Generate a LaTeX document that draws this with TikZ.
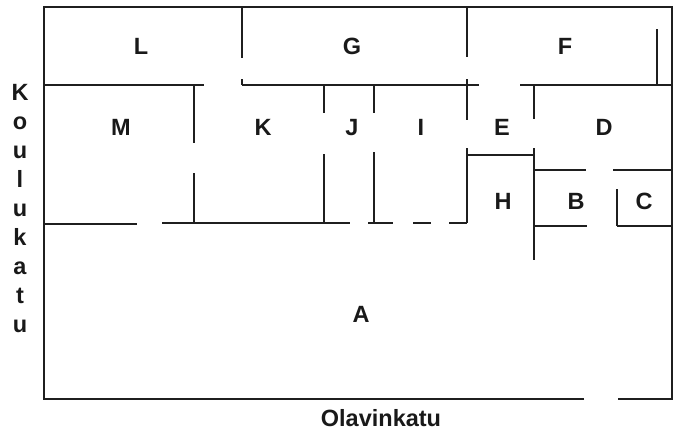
\documentclass[tikz,border=0pt]{standalone}
\usepackage{fontspec}
\setmainfont{Liberation Sans}
\tikzset{
    wall/.style={line width=2.3pt,color=black!88!white},
    room/.style={font=\bfseries\fontsize{23.5}{28}\selectfont,color=black!90!white,anchor=base},
}

\begin{document}
\begin{tikzpicture}[x=1pt,y=-1pt]
\useasboundingbox (0,0) rectangle (674,432);

%outer walls
\draw[wall] (584,399) -- (44,399) -- (44,7) -- (672,7) -- (672,399) -- (618,399);

%horizontal walls
\foreach \y/\a/\b in {85/44/204,85/242/479,85/520/672,224/44/137,223/162/350,223/368/393,223/413/431,223/449/467,155/467/534,170/534/586,170/613/672,226/534/587,226/617/672}{
    \draw[wall] (\a,\y) -- (\b,\y);
}
%vertical walls
\foreach \x/\a/\b in {242/7/58,242/79/85,194/85/143,194/173/223,324/85/113,324/154/223,374/85/113,374/152/223,467/7/57,467/79/120,467/148/223,534/85/119,534/148/260,617/189/226,657/29/85}{
    \draw[wall] (\x,\a) -- (\x,\b);
}

%room labels
\foreach \t/\x/\y in {L/141/54,G/352/54,F/565/54,M/121/135,K/263/135,J/352/135,I/421/135,E/502/135,D/604/135,H/503/209,B/576/209,C/644/209,A/361/322}{
    \node[room] (room\t) at (\x,\y) {\t};
}

%street names
\foreach \t [count=\i] in {K,o,u,l,u,k,a,t,u}{
    \node[room] (street\i) at (20,{71+29*\i}) {\t};
}
\node[room] (olavinkatu) at (381,426) {Olavinkatu};

\end{tikzpicture}
\end{document}
